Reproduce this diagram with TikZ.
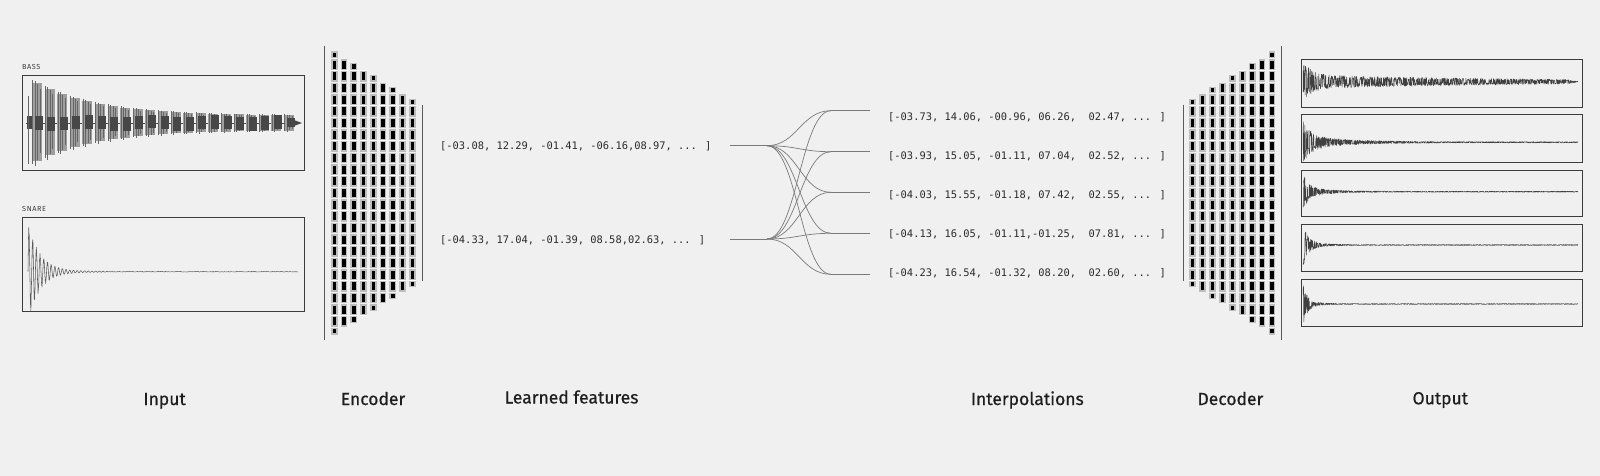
\documentclass[tikz,border=0pt]{standalone}
\usepackage{fontspec}
\setmainfont{Fira Sans}
\newfontfamily\labfont[FakeBold=0.6]{Fira Sans}
\newfontfamily\monofnt{DejaVu Sans Mono}
\newfontfamily\tinysans[LetterSpace=8]{Fira Sans}
\definecolor{bg}{HTML}{F0F0F0}
\definecolor{ink}{HTML}{1E1E1E}
\definecolor{monoink}{HTML}{2A2A2A}
\definecolor{frame}{HTML}{3C3C3C}
\definecolor{cellgray}{HTML}{BDBDBD}
\definecolor{linkgray}{HTML}{7A7A7A}
\definecolor{rulegray}{HTML}{5A5A5A}
\definecolor{wavedark}{HTML}{404040}
\definecolor{snarewave}{HTML}{5A5A5A}
\definecolor{bassdark}{HTML}{474747}
\definecolor{basslight}{HTML}{9E9E9E}
\definecolor{bassmid}{HTML}{666666}
\tikzset{
  wbox/.style={draw=frame, line width=1pt, inner sep=0pt, fill=none},
  feat/.style={inner sep=0pt, font=\monofnt\fontsize{10.4}{12}\selectfont, text=monoink},
  lab/.style={inner sep=0pt, font=\labfont\fontsize{17.5}{20}\selectfont, text=ink},
  smalllab/.style={inner sep=0pt, font=\tinysans\fontsize{7.3}{9}\selectfont, text=frame},
  link/.style={draw=linkgray, line width=0.7pt},
  vrule/.style={draw=rulegray, line width=1pt},
  wave/.style={draw=wavedark, line width=0.45pt, line join=round},
  bassline/.style={draw=bassmid, line width=1pt},
}
\newcommand\nncolumn[3]{%
  \foreach \n in {-3,...,25}{%
    \pgfmathsetmacro\ya{max(70.5+11.6667*\n,#2)}%
    \pgfmathsetmacro\yb{min(70.5+11.6667*(\n+1),#3)}%
    \pgfmathsetmacro\hh{\yb-\ya}%
    \ifdim\hh pt>3pt\relax
      \fill[cellgray] ({#1-3.4},{\ya+0.5}) rectangle ({#1+3.4},{\yb-0.5});
      \fill[black] ({#1-1.7},{\ya+1.7}) rectangle ({#1+1.7},{\yb-1.7});
    \fi
  }%
  \foreach \m in {-1,...,8}{%
    \pgfmathsetmacro\yg{70.5+35*\m}%
    \pgfmathsetmacro\ok{and(\yg>#2+1,\yg<#3-1)}%
    \ifdim\ok pt>0.5pt\relax
      \draw[white,line width=1.2pt] ({#1-3.6},\yg) -- ({#1+3.6},\yg);
    \fi
  }%
}
\begin{document}
\begin{tikzpicture}[x=1pt,y=-1pt]
\pgfmathsetseed{4242}
\fill[bg] (0,0) rectangle (1600,476);
\useasboundingbox (0,0) rectangle (1600,476);

% ---------------- Input ----------------
\node[smalllab, anchor=base west] (basslab) at (22,70) {BASS};
\node[smalllab, anchor=base west] (snarelab) at (22,211.7) {SNARE};
\node[wbox, minimum width=281.6pt, minimum height=94pt] (bass) at (163.5,123) {};
\node[wbox, minimum width=281.6pt, minimum height=94pt] (snare) at (163.5,264) {};

% bass waveform
\draw[draw=bassdark, line width=0.6pt] (26,123) -- (300,123);
\fill[bassdark] (26.5,116) rectangle (31.5,129);
\draw[bassline] (28,96) -- (28,164);
\foreach \k in {0,...,20}{%
  \pgfmathsetmacro\xo{32+12.6*\k}%
  \pgfmathsetmacro\B{min(6.7,(302-\xo)/4)}%
  \pgfmathsetmacro\A{8+35*exp(-\k/5)}%
  \pgfmathsetmacro\dc{1.2*sin(70*\k)}%
  \fill[basslight] (\xo,{123-0.92*\A}) rectangle ({\xo+10},{123+0.88*\A});
  \draw[bassline] ({\xo+0.8},{123-\A}) -- ({\xo+0.8},{123+0.95*\A});
  \draw[bassline] ({\xo+3.2},{123-0.97*\A}) -- ({\xo+3.2},{123+\A});
  \draw[bassline] ({\xo+5.6},{123-0.9*\A}) -- ({\xo+5.6},{123+0.85*\A});
  \draw[bassline] ({\xo+8},{123-0.8*\A}) -- ({\xo+8},{123+0.7*\A});
  \fill[bassdark] ({\xo+2.5},{123+\dc-\B}) rectangle ({\xo+10.5},{123+\dc+\B});
}
\fill[bassdark] (290,118.6) -- (302,123) -- (290,127.4) -- cycle;

% snare waveform
\draw[draw=snarewave, line width=0.55pt, line join=round] plot[samples=500, domain=0:80, variable=\t]
  ({28+\t},{271.7-(45*exp(-min(\t/12,9))+0.4)*(1+0.15*rand)*sin(97*\t)});
\draw[draw=snarewave, line width=0.5pt] plot[samples=200, domain=80:270, variable=\t]
  ({28+\t},{271.7+0.35*rand});

% ---------------- Encoder ----------------
\draw[vrule] (324.3,46) -- (324.3,340);
\draw[vrule] (422.7,105) -- (422.7,281);
\foreach \i in {0,...,8}{%
  \pgfmathsetmacro\cx{334.3+9.75*\i}%
  \pgfmathsetmacro\yt{51+5.9*\i}%
  \pgfmathsetmacro\ybt{386-\yt}%
  \nncolumn{\cx}{\yt}{\ybt}%
}

% ---------------- Learned features ----------------
\node[feat, anchor=base west] (feat1) at (440,149.8) {[-03.08, 12.29, -01.41, -06.16,08.97, ... ]};
\node[feat, anchor=base west] (feat2) at (440,243.1) {[-04.33, 17.04, -01.39, 08.58,02.63, ... ]};

% ---------------- Interpolations ----------------
\coordinate (fa0) at (730,145.7);
\coordinate (fanA) at (767,145.7);
\coordinate (fb0) at (730,239);
\coordinate (fanB) at (767,239);
\foreach \j/\yy in {1/110.7,2/151.7,3/192.3,4/233.3,5/274.3}{%
  \coordinate (t\j) at (831,\yy);
  \coordinate (e\j) at (870,\yy);
}
\draw[link] (fa0) -- (fanA);
\draw[link] (fb0) -- (fanB);
\foreach \j in {1,...,5}{%
  \draw[link] (fanA) .. controls +(30,0) and +(-30,0) .. (t\j);
  \draw[link] (fanB) .. controls +(30,0) and +(-30,0) .. (t\j);
  \draw[link] (t\j) -- (e\j);
}
\node[feat, anchor=base west] (int1) at (888,120.5) {[-03.73, 14.06, -00.96, 06.26,~ 02.47, ... ]};
\node[feat, anchor=base west] (int2) at (888,159.5) {[-03.93, 15.05, -01.11, 07.04,~ 02.52, ... ]};
\node[feat, anchor=base west] (int3) at (888,198.8) {[-04.03, 15.55, -01.18, 07.42,~ 02.55, ... ]};
\node[feat, anchor=base west] (int4) at (888,237.8) {[-04.13, 16.05, -01.11,-01.25,~ 07.81, ... ]};
\node[feat, anchor=base west] (int5) at (888,276.5) {[-04.23, 16.54, -01.32, 08.20,~ 02.60, ... ]};

% ---------------- Decoder ----------------
\draw[vrule] (1183.3,105) -- (1183.3,281);
\draw[vrule] (1281.7,46) -- (1281.7,340);
\foreach \i in {0,...,8}{%
  \pgfmathsetmacro\cx{1192.7+9.91*\i}%
  \pgfmathsetmacro\yt{51+5.9*(8-\i)}%
  \pgfmathsetmacro\ybt{386-\yt}%
  \nncolumn{\cx}{\yt}{\ybt}%
}

% ---------------- Output ----------------
\node[wbox, minimum width=281.3pt, minimum height=47.3pt] (out1) at (1441.65,83.65) {};
\node[wbox, minimum width=281.3pt, minimum height=47.3pt] (out2) at (1441.65,138.65) {};
\node[wbox, minimum width=281.3pt, minimum height=46.7pt] (out3) at (1441.65,193.35) {};
\node[wbox, minimum width=281.3pt, minimum height=46.7pt] (out4) at (1441.65,247.65) {};
\node[wbox, minimum width=281.3pt, minimum height=46.7pt] (out5) at (1441.65,302.65) {};

\draw[wave] plot[samples=1100, domain=0:275, variable=\t]
  ({1303+\t},{81.7+(15*exp(-min(\t/8,9))+7*exp(-\t/250))*min(1,(276-\t)/12)*(0.3+0.7*rnd)*(2*greater(rnd,0.5)-1)});
\draw[wave] plot[samples=1100, domain=0:275, variable=\t]
  ({1303+\t},{142.3+(15*exp(-min(\t/7,9))+7*exp(-\t/40)+0.6)*(0.3+0.7*rnd)*(2*greater(rnd,0.5)-1)});
\draw[wave] plot[samples=1100, domain=0:275, variable=\t]
  ({1303+\t},{191.7+(16*exp(-min(\t/4,9))+6*exp(-\t/20)+0.5)*(0.3+0.7*rnd)*(2*greater(rnd,0.5)-1)});
\draw[wave] plot[samples=1100, domain=0:275, variable=\t]
  ({1303+\t},{245+(16*exp(-min(\t/4.5,9))+6*exp(-min(\t/12,9))+0.5)*(0.3+0.7*rnd)*(2*greater(rnd,0.5)-1)});
\draw[wave] plot[samples=1100, domain=0:275, variable=\t]
  ({1303+\t},{304+(17*exp(-min(\t/4,9))+5*exp(-min(\t/9,9))+0.5)*(0.3+0.7*rnd)*(2*greater(rnd,0.5)-1)});

% ---------------- Bottom labels ----------------
\node[lab, anchor=base] (linput) at (164.6,405) {Input};
\node[lab, anchor=base] (lenc) at (373,405) {Encoder};
\node[lab, anchor=base] (lfeat) at (571.5,403.5) {Learned features};
\node[lab, anchor=base] (linterp) at (1027.3,405) {Interpolations};
\node[lab, anchor=base] (ldec) at (1230.4,405) {Decoder};
\node[lab, anchor=base] (lout) at (1440.3,404.3) {Output};
\end{tikzpicture}
\end{document}
